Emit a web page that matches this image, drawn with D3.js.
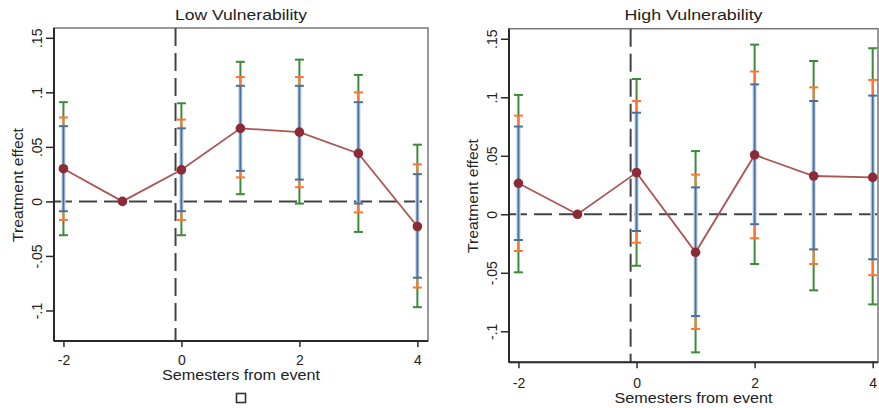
<!DOCTYPE html>
<html>
<head>
<meta charset="utf-8">
<script src="https://cdn.jsdelivr.net/npm/d3@7"></script>
<style>
  html, body { margin: 0; padding: 0; background: #fff; }
  svg { display: block; }
  text { font-family: "Liberation Sans", Arial, sans-serif; fill: #222; }
</style>
</head>
<body>
<svg id="chart" width="879" height="408"></svg>
<script>
// ---------- data ----------
const periods = [-2, -1, 0, 1, 2, 3, 4];
const yTickValues = [-0.1, -0.05, 0, 0.05, 0.1, 0.15];
const yTickLabels = ["-.1", "-.05", "0", ".05", ".1", ".15"];
const xTickValues = [-2, 0, 2, 4];
const xTickLabels = ["-2", "0", "2", "4"];
const panelTitles = ["Low Vulnerability", "High Vulnerability"];
const xTitle = "Semesters from event";
const yTitle = "Treatment effect";
const eventLine = -0.1;

// Low vulnerability
const lowEst      = [0.030, 0, 0.029, 0.067, 0.0635, 0.044, -0.023];
const lowBlueLo   = [-0.009, null, -0.009, 0.028, 0.020, -0.002, -0.070];
const lowBlueHi   = [0.069, null, 0.067, 0.106, 0.106, 0.091, 0.025];
const lowOrangeLo = [-0.017, null, -0.017, 0.022, 0.013, -0.010, -0.079];
const lowOrangeHi = [0.077, null, 0.075, 0.114, 0.114, 0.100, 0.034];
const lowGreenLo  = [-0.031, null, -0.031, 0.0066, -0.002, -0.028, -0.097];
const lowGreenHi  = [0.091, null, 0.090, 0.128, 0.130, 0.116, 0.052];

// High vulnerability
const highEst      = [0.0265, 0, 0.0356, -0.0325, 0.0507, 0.0327, 0.0316];
const highBlueLo   = [-0.022, null, -0.0143, -0.087, -0.0085, -0.030, -0.0385];
const highBlueHi   = [0.075, null, 0.0868, 0.023, 0.111, 0.0968, 0.1014];
const highOrangeLo = [-0.0314, null, -0.0243, -0.098, -0.0205, -0.0425, -0.052];
const highOrangeHi = [0.0843, null, 0.0968, 0.0339, 0.122, 0.1085, 0.1148];
const highGreenLo  = [-0.0496, null, -0.044, -0.118, -0.0425, -0.065, -0.077];
const highGreenHi  = [0.102, null, 0.1156, 0.054, 0.145, 0.131, 0.1419];

// ---------- drawing ----------
const svg = d3.select("#chart");

const colors = {
  green: "#3b8b3b",
  orange: "#ff7433",
  blue: "#46719f",
  blueHalo: "#d0dcea",
  line: "#aa5656",
  point: "#8c2a36",
  ref: "#444",
  axis: "#2a2a2a",
  frame: "#777"
};

const panels = [
  {
    title: panelTitles[0],
    est: lowEst,
    ci: [
      {lo: lowGreenLo, hi: lowGreenHi, color: colors.green},
      {lo: lowOrangeLo, hi: lowOrangeHi, color: colors.orange},
      {lo: lowBlueLo, hi: lowBlueHi, color: colors.blue, halo: true}
    ],
    box: {l: 54, t: 28, r: 428, b: 341},
    xDomain: [-2.16, 4.18],
    yDomain: [-0.128, 0.159],
    titleY: 20, xLabY: 365, xTitleY: 380, yLabX: 42, yTitleX: 23, yTitleC: 185,
    titleLen: 132,
    square: true
  },
  {
    title: panelTitles[1],
    est: highEst,
    ci: [
      {lo: highGreenLo, hi: highGreenHi, color: colors.green},
      {lo: highOrangeLo, hi: highOrangeHi, color: colors.orange},
      {lo: highBlueLo, hi: highBlueHi, color: colors.blue, halo: true}
    ],
    box: {l: 509, t: 28.7, r: 878, b: 362.3},
    xDomain: [-2.16, 4.09],
    yDomain: [-0.1265, 0.1586],
    titleY: 20, xLabY: 388, xTitleY: 403, yLabX: 497, yTitleX: 478, yTitleC: 196,
    titleLen: 138,
    square: false
  }
];

panels.forEach(p => {
  const g = svg.append("g");
  const x = d3.scaleLinear().domain(p.xDomain).range([p.box.l, p.box.r]);
  const y = d3.scaleLinear().domain(p.yDomain).range([p.box.b, p.box.t]);
  const cx = (p.box.l + p.box.r) / 2;

  // frame
  g.append("rect")
    .attr("x", p.box.l).attr("y", p.box.t)
    .attr("width", p.box.r - p.box.l).attr("height", p.box.b - p.box.t)
    .attr("fill", "none").attr("stroke", colors.frame).attr("stroke-width", 1.5);

  // reference lines
  g.append("line")
    .attr("x1", p.box.l).attr("x2", p.box.r)
    .attr("y1", y(0)).attr("y2", y(0))
    .attr("stroke", colors.ref).attr("stroke-width", 2)
    .attr("stroke-dasharray", "18,7");
  g.append("line")
    .attr("x1", x(eventLine)).attr("x2", x(eventLine))
    .attr("y1", p.box.t).attr("y2", p.box.b)
    .attr("stroke", colors.ref).attr("stroke-width", 2)
    .attr("stroke-dasharray", "18,7");

  // y axis
  const yAxis = d3.axisLeft(y).tickValues(yTickValues)
    .tickFormat((d, i) => yTickLabels[i]).tickSize(8).tickSizeOuter(0);
  const ya = g.append("g").attr("transform", `translate(${p.box.l},0)`).call(yAxis);
  ya.select(".domain").attr("stroke", colors.axis).attr("stroke-width", 2)
    .attr("d", `M0,${p.box.t}V${p.box.b}`);
  ya.selectAll(".tick line").attr("stroke", colors.axis).attr("stroke-width", 1.5);
  ya.selectAll(".tick text")
    .attr("x", 0).attr("dy", null)
    .attr("transform", `translate(${p.yLabX - p.box.l},0) rotate(-90)`)
    .attr("text-anchor", "middle")
    .attr("font-size", 14)
    .style("font-family", '"Liberation Sans", Arial, sans-serif')
    .attr("fill", "#222");

  // x axis
  const xAxis = d3.axisBottom(x).tickValues(xTickValues)
    .tickFormat((d, i) => xTickLabels[i]).tickSize(6).tickSizeOuter(0);
  const xa = g.append("g").attr("transform", `translate(0,${p.box.b})`).call(xAxis);
  xa.select(".domain").attr("stroke", colors.axis).attr("stroke-width", 2)
    .attr("d", `M${p.box.l},0H${p.box.r}`);
  xa.selectAll(".tick line").attr("stroke", colors.axis).attr("stroke-width", 1.5);
  xa.selectAll(".tick text")
    .attr("y", p.xLabY - p.box.b).attr("dy", null)
    .attr("font-size", 14)
    .style("font-family", '"Liberation Sans", Arial, sans-serif')
    .attr("fill", "#222");

  // CIs
  p.ci.forEach(c => {
    const idx = periods.map((d, i) => i).filter(i => c.lo[i] !== null);
    if (c.halo) {
      g.selectAll(null).data(idx).enter().append("line")
        .attr("x1", i => x(periods[i])).attr("x2", i => x(periods[i]))
        .attr("y1", i => y(c.lo[i])).attr("y2", i => y(c.hi[i]))
        .attr("stroke", colors.blueHalo).attr("stroke-width", 4.5);
    }
    g.selectAll(null).data(idx).enter().append("line")
      .attr("x1", i => x(periods[i])).attr("x2", i => x(periods[i]))
      .attr("y1", i => y(c.lo[i])).attr("y2", i => y(c.hi[i]))
      .attr("stroke", c.color).attr("stroke-width", 2);
    [c.lo, c.hi].forEach(arr => {
      g.selectAll(null).data(idx).enter().append("line")
        .attr("x1", i => x(periods[i]) - 4.5).attr("x2", i => x(periods[i]) + 4.5)
        .attr("y1", i => y(arr[i])).attr("y2", i => y(arr[i]))
        .attr("stroke", c.color).attr("stroke-width", 2);
    });
  });

  // estimate line
  const line = d3.line().x((d, i) => x(periods[i])).y(d => y(d));
  g.append("path").datum(p.est)
    .attr("d", line).attr("fill", "none")
    .attr("stroke", colors.line).attr("stroke-width", 1.8);
  g.selectAll(null).data(p.est).enter().append("circle")
    .attr("cx", (d, i) => x(periods[i])).attr("cy", d => y(d))
    .attr("r", 4.8).attr("fill", colors.point);

  // titles
  g.append("text").attr("x", cx).attr("y", p.titleY)
    .attr("text-anchor", "middle").attr("font-size", 15)
    .attr("textLength", p.titleLen)
    .attr("lengthAdjust", "spacingAndGlyphs")
    .text(p.title);
  g.append("text").attr("x", cx).attr("y", p.xTitleY)
    .attr("text-anchor", "middle").attr("font-size", 14)
    .attr("textLength", 158).attr("lengthAdjust", "spacingAndGlyphs")
    .text(xTitle);
  g.append("text")
    .attr("transform", `translate(${p.yTitleX},${p.yTitleC}) rotate(-90)`)
    .attr("text-anchor", "middle").attr("font-size", 14)
    .attr("textLength", 114).attr("lengthAdjust", "spacingAndGlyphs")
    .text(yTitle);

  if (p.square) {
    g.append("rect").attr("x", 236.5).attr("y", 393.5)
      .attr("width", 9).attr("height", 9)
      .attr("fill", "#fff").attr("stroke", "#333").attr("stroke-width", 1.6);
  }
});
</script>
</body>
</html>
